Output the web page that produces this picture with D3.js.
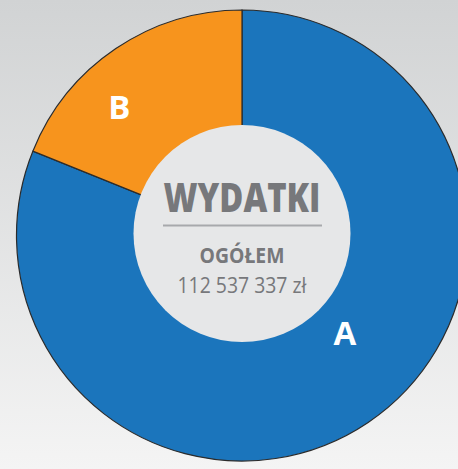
<!DOCTYPE html>
<html><head><meta charset="utf-8">
<script src="https://cdn.jsdelivr.net/npm/d3@7"></script>
<style>html,body{margin:0;padding:0;overflow:hidden;}svg{display:block;}</style>
</head><body>
<script>
const categories = ["A", "B"];
const values = [81.1, 18.9];
const colors = ["#1b75bc", "#f7941d"];
const labelAngles = [133.6, -43.6];
const labelRadii = [142, 178];
const titleText = "WYDATKI";
const subText = "OGÓŁEM";
const totalText = "112 537 337 zł";

const W = 458, H = 469, cx = 242, cy = 235.5, R = 225.5, rInner = 108.5;
const svg = d3.select("body").append("svg").attr("width", W).attr("height", H);
const defs = svg.append("defs");
const g = defs.append("linearGradient").attr("id", "bg").attr("x1", 0).attr("y1", 0).attr("x2", 0).attr("y2", 1);
g.append("stop").attr("offset", "0%").attr("stop-color", "#d1d3d4");
g.append("stop").attr("offset", "100%").attr("stop-color", "#f4f4f4");
svg.append("rect").attr("width", W).attr("height", H).attr("fill", "url(#bg)");

const pie = d3.pie().sort(null).value(d => d)
  .startAngle(0).endAngle(2 * Math.PI);
const arcs = pie(values);
const arc = d3.arc().innerRadius(0).outerRadius(R);
const chart = svg.append("g").attr("transform", `translate(${cx},${cy})`);
chart.selectAll("path").data(arcs).join("path")
  .attr("d", arc).attr("fill", (d, i) => colors[i])
  .attr("stroke", "#2b2b2b").attr("stroke-width", 1.2);

chart.selectAll("text.lbl").data(categories).join("text").attr("class", "lbl")
  .attr("x", (d, i) => labelRadii[i] * Math.sin(labelAngles[i] * Math.PI / 180))
  .attr("y", (d, i) => -labelRadii[i] * Math.cos(labelAngles[i] * Math.PI / 180) + 12)
  .attr("text-anchor", "middle")
  .attr("font-family", "'Open Sans', sans-serif").attr("font-weight", 700)
  .attr("font-size", 33).attr("fill", "#fff").text(d => d);

const center = svg.append("g").attr("transform", `translate(${cx},${cy - 2})`);
center.append("circle").attr("r", rInner).attr("fill", "#e6e7e8");
center.append("text").attr("x", 0).attr("y", -22).attr("text-anchor", "middle")
  .attr("font-family", "'Open Sans', sans-serif").attr("font-weight", 800)
  .attr("font-size", 41).attr("fill", "#77787b")
  .attr("textLength", 157).attr("lengthAdjust", "spacingAndGlyphs").text(titleText);
center.append("line").attr("x1", -79).attr("x2", 80).attr("y1", -8).attr("y2", -8)
  .attr("stroke", "#a7a9ac").attr("stroke-width", 2);
center.append("text").attr("x", 0).attr("y", 29).attr("text-anchor", "middle")
  .attr("font-family", "'Open Sans', sans-serif").attr("font-weight", 700)
  .attr("font-size", 21).attr("fill", "#77787b")
  .attr("textLength", 85).attr("lengthAdjust", "spacingAndGlyphs").text(subText);
center.append("text").attr("x", 0).attr("y", 59).attr("text-anchor", "middle")
  .attr("font-family", "'Open Sans', sans-serif").attr("font-weight", 400)
  .attr("font-size", 21).attr("fill", "#77787b")
  .attr("textLength", 129).attr("lengthAdjust", "spacingAndGlyphs").text(totalText);
</script>
</body></html>
